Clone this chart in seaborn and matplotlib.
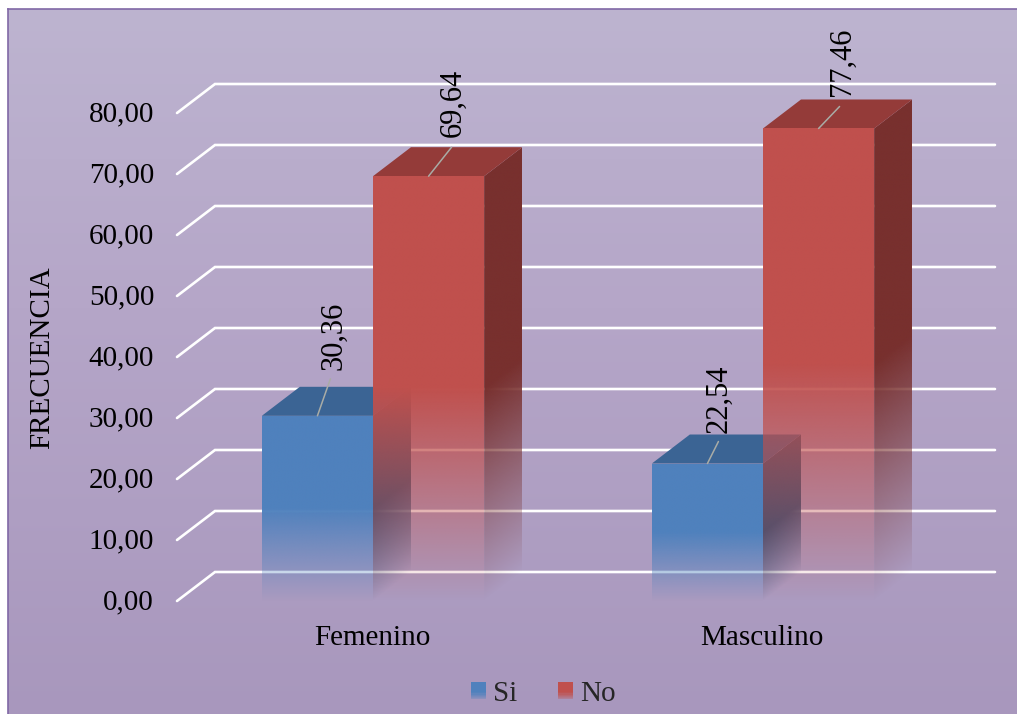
import numpy as np
import pandas as pd
import matplotlib
matplotlib.use("Agg")
import matplotlib.pyplot as plt
from matplotlib.colors import to_rgb
from matplotlib.legend_handler import HandlerBase
from matplotlib.patches import Patch, Polygon, Rectangle
from matplotlib.transforms import ScaledTranslation
import seaborn as sns

# Chart values
categories = ["Femenino", "Masculino"]
series_names = ["Si", "No"]
si_values = [30.36, 22.54]
no_values = [69.64, 77.46]
y_ticks = [0, 10, 20, 30, 40, 50, 60, 70, 80]
y_title = "FRECUENCIA"

# Styling
front_colors = {"Si": "#4f81bd", "No": "#c0504d"}
top_colors = {"Si": "#3b6494", "No": "#943b39"}
side_colors = {"Si": "#2f5077", "No": "#78302e"}
FONT = "Liberation Serif"
FS = 21
LABEL_FS = 22
W, H = 1017, 714
DPI = 100

# Depth of the extruded plot box, in data units
DEPTH_X = 38 / 390
DEPTH_Y = 29 / 6.1
GRID_NUDGE = 1 / 390

# Label placement relative to each bar's top centre, in pixels:
# (text dx, text bottom dy, leader tip dx, leader tip dy), per series and category
label_place = {
    ("Si", 0): (16, 46, 13, 37),
    ("Si", 1): (12, 31, 11, 22),
    ("No", 0): (25, 39, 23, 29),
    ("No", 1): (24, 32, 21, 22),
}

sns.set_theme(style="white", rc={"font.family": [FONT, "DejaVu Serif"]})
plt.rcParams["font.family"] = [FONT, "DejaVu Serif"]

fig = plt.figure(figsize=(W / DPI, H / DPI), dpi=DPI, facecolor="white")


def fade_alpha(t):
    """Opacity down a face: solid over the upper half, fading out below."""
    return np.clip((1 - t) / 0.5, 0, 1)


# Panel behind the chart; its right and bottom edges run off the canvas
bg = fig.add_axes([8 / W, -5 / H, (W - 3) / W, (H - 4) / H], zorder=0)
stops = np.array([[189, 180, 208], [181, 166, 200], [168, 151, 189]]) / 255
rows = np.linspace(0, 1, 256)
grad = np.stack([np.interp(rows, [0, 0.42, 1], stops[:, i]) for i in range(3)], axis=1)
bg.imshow(grad[:, None, :], aspect="auto", extent=[0, 1, 0, 1], origin="upper")
bg.set_xticks([])
bg.set_yticks([])
for side, spine in bg.spines.items():
    spine.set_color("#8068a6")
    spine.set_linewidth(1.2)

# Plot box: the front plane spans x 178-958 and y 113-601 in figure pixels
ax = fig.add_axes([178 / W, (H - 601) / H, 780 / W, 488 / H], zorder=1)
ax.patch.set_visible(False)

positions = list(range(len(categories)))
table = pd.DataFrame({
    "posicion": positions * 2,
    "serie": [series_names[0]] * 2 + [series_names[1]] * 2,
    "valor": si_values + no_values,
})
sns.barplot(
    data=table, x="posicion", y="valor", hue="serie", native_scale=True,
    hue_order=series_names, palette=front_colors, width=0.57, gap=0,
    legend=False, ax=ax, zorder=3,
)
ax.set_xlim(-0.5, 1.5)
ax.set_ylim(0, 80)

# Gridlines sit on the back wall and turn forward along the left wall
for tick in y_ticks:
    ax.plot([-0.5 - GRID_NUDGE, -0.5 + DEPTH_X - GRID_NUDGE, 1.5 + DEPTH_X - GRID_NUDGE],
            [tick, tick + DEPTH_Y, tick + DEPTH_Y],
            color="white", lw=1.9, clip_on=False, zorder=1, solid_joinstyle="miter")


def gradient_face(x0, x1, height, color, shear, zorder):
    """Draw a bar face as an image whose opacity fades toward the face's base."""
    nx, ny = 40, 900
    xs = (np.arange(nx) + 0.5) / nx
    ys = (np.arange(ny) + 0.5) / ny * (height + shear)
    gx, gy = np.meshgrid(xs, ys)
    t = 1 - (gy - shear * gx) / height
    rgba = np.zeros((ny, nx, 4))
    rgba[..., :3] = to_rgb(color)
    rgba[..., 3] = fade_alpha(t)
    im = ax.imshow(rgba, origin="lower", aspect="auto", interpolation="bilinear",
                   extent=[x0, x1, 0, height + shear], zorder=zorder)
    outline = Polygon([(x0, 0), (x1, shear), (x1, height + shear), (x0, height)],
                      closed=True, transform=ax.transData)
    im.set_clip_box(fig.bbox)
    im.set_clip_path(outline)
    return im


z = 3.0
for name, container in zip(series_names, ax.containers):
    for i, bar in enumerate(container):
        x0, w, h = bar.get_x(), bar.get_width(), bar.get_height()
        x1 = x0 + w
        bar.set_facecolor("none")
        bar.set_linewidth(0)
        gradient_face(x1, x1 + DEPTH_X, h, side_colors[name], DEPTH_Y, z)
        ax.fill([x0, x1, x1 + DEPTH_X, x0 + DEPTH_X], [h, h, h + DEPTH_Y, h + DEPTH_Y],
                color=top_colors[name], lw=0, clip_on=False, zorder=z + 0.1)
        gradient_face(x0, x1, h, front_colors[name], 0, z + 0.2)

        # Value label with its thin leader line
        tx, ty, lx, ly = label_place[(name, i)]
        top = (x0 + w / 2, h)
        px = 72 / DPI
        ax.annotate("", xy=top, xytext=(lx * px, ly * px), textcoords="offset points",
                    arrowprops=dict(arrowstyle="-", color="#a9aca6", lw=1.1,
                                    shrinkA=0, shrinkB=0),
                    annotation_clip=False, zorder=9)
        ax.annotate(f"{h:.2f}".replace(".", ","), xy=top,
                    xytext=(tx * px, ty * px), textcoords="offset points",
                    rotation=90, ha="center", va="bottom", fontsize=LABEL_FS,
                    color="black", annotation_clip=False, zorder=10)
    z += 1.0

# Axes text
ax.set_xlim(-0.5, 1.5)
ax.set_ylim(0, 80)
ax.set_yticks(y_ticks)
ax.set_yticklabels([f"{t:.2f}".replace(".", ",") for t in y_ticks], fontsize=FS, color="black")
ax.set_xticks(positions)
ax.set_xticklabels(categories, fontsize=FS, color="black")
ax.tick_params(axis="y", length=0, pad=17.2)
ax.tick_params(axis="x", length=0, pad=17.2)
lift = ScaledTranslation(0, 2 / DPI, fig.dpi_scale_trans)
nudge = ScaledTranslation(-1 / DPI, 0, fig.dpi_scale_trans)
for label in ax.get_yticklabels():
    label.set_transform(label.get_transform() + lift)
for label in ax.get_xticklabels():
    label.set_transform(label.get_transform() + nudge)
ax.set_xlabel("")
ax.set_ylabel("")
sns.despine(ax=ax, left=True, bottom=True)
fig.text(42 / W, 1 - 358 / H, y_title, rotation=90, ha="center", va="center",
         fontsize=FS, color="black")


class FadingSwatch(HandlerBase):
    """Legend key that repeats the fade of the bars."""

    def create_artists(self, legend, orig_handle, xdescent, ydescent, width, height,
                       fontsize, trans):
        n = 15
        color = orig_handle.get_facecolor()[:3]
        artists = []
        for k in range(n):
            t = (k + 0.5) / n
            alpha = 1.0 if t < 0.6 else 1.0 - 0.75 * (t - 0.6) / 0.4
            artists.append(Rectangle(
                (-xdescent, -ydescent + height * (1 - (k + 1) / n)), width, height / n,
                facecolor=color, alpha=alpha, edgecolor="none", antialiased=False,
                transform=trans))
        return artists


handles = [Patch(facecolor=front_colors[s], label=s) for s in series_names]
leg = fig.legend(
    handles=handles, loc="center", bbox_to_anchor=(543.5 / W, 1 - 694 / H), ncol=2,
    frameon=False, fontsize=FS, handlelength=0.52, handleheight=0.52,
    handletextpad=0.24, columnspacing=1.4, borderpad=0,
    handler_map={Patch: FadingSwatch()},
)

fig.savefig("out.png", dpi=DPI, facecolor="white")
